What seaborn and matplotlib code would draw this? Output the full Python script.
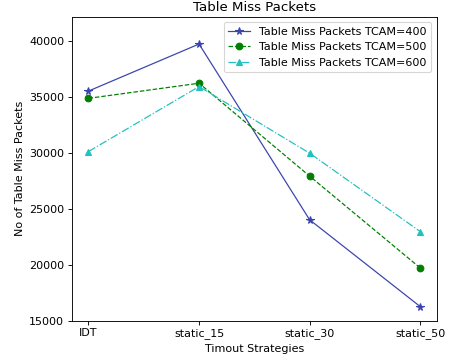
import matplotlib
matplotlib.use("Agg")
import matplotlib.pyplot as plt
import seaborn as sns
import pandas as pd

strategies = ["IDT", "static_15", "static_30", "static_50"]
tcam400 = [35500, 39700, 24000, 16250]
tcam500 = [34850, 36200, 27900, 19700]
tcam600 = [30100, 35900, 29950, 22950]
labels = ["Table Miss Packets TCAM=400", "Table Miss Packets TCAM=500", "Table Miss Packets TCAM=600"]

plt.rcParams['font.family'] = ['DejaVu Sans']
DPI = 80
fig = plt.figure(figsize=(455 / DPI, 361 / DPI), dpi=DPI)
ax = fig.add_axes([0.158, 0.112, 0.802, 0.842])

styles = [
    dict(color="#3b44ad", marker="*", linestyle="-", markersize=7),
    dict(color="green", marker="o", linestyle="--", markersize=6),
    dict(color="#22c0c0", marker="^", linestyle="-.", markersize=6),
]
for vals, lab, st in zip([tcam400, tcam500, tcam600], labels, styles):
    df = pd.DataFrame({"x": strategies, "y": vals})
    sns.lineplot(data=df, x="x", y="y", ax=ax, sort=False, label=lab,
                 linewidth=1.1, markeredgewidth=1, markeredgecolor=st["color"], **st)

ax.set_ylim(15000, 42150)
ax.set_yticks([15000, 20000, 25000, 30000, 35000, 40000])
ax.set_title("Table Miss Packets", fontsize=12, pad=5)
ax.set_xlabel("Timout Strategies", fontsize=10)
ax.set_ylabel("No of Table Miss Packets", fontsize=10)
ax.tick_params(labelsize=10)
ax.legend(loc="upper right", fontsize=10)
fig.savefig("out.png", dpi=DPI)
